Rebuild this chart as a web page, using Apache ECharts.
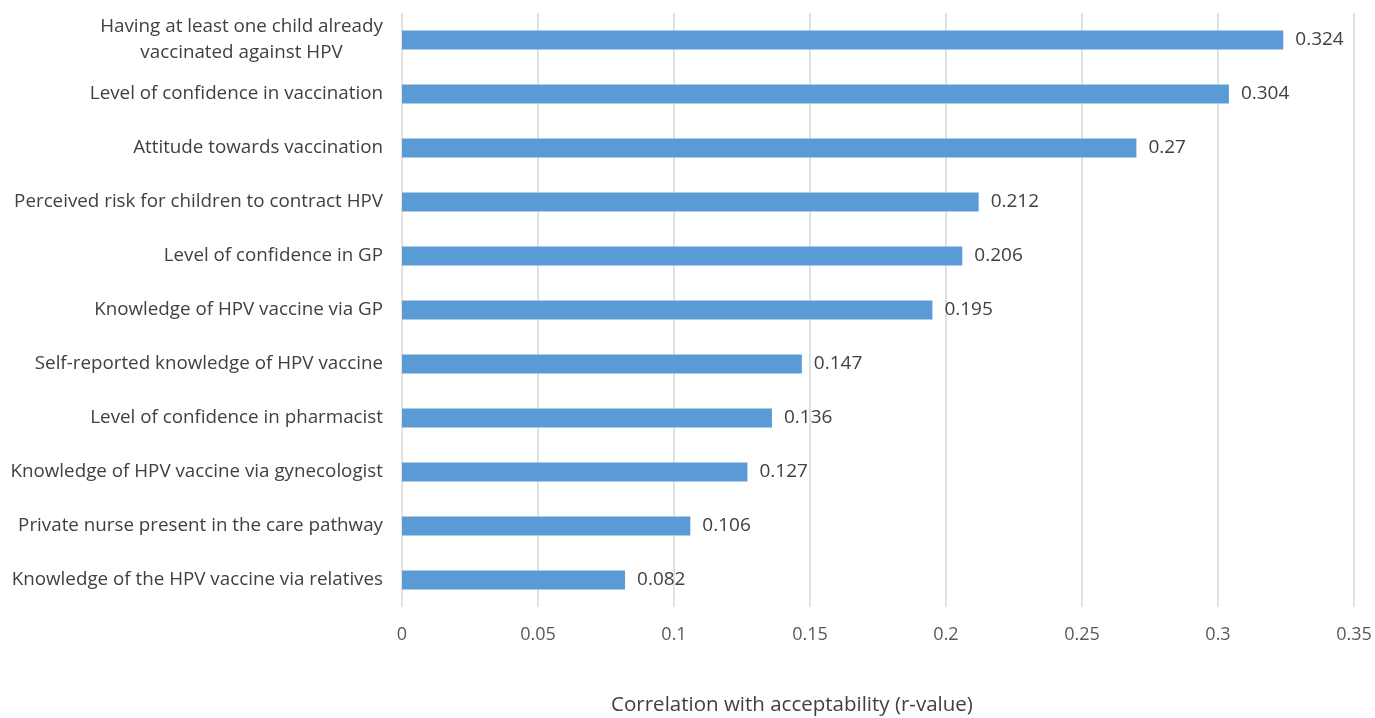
<!DOCTYPE html>
<html>
<head>
<meta charset="utf-8">
<script src="https://cdn.jsdelivr.net/npm/echarts@6/dist/echarts.min.js"></script>
<style>html,body{margin:0;padding:0;background:#fff}#c{width:1375px;height:718px}</style>
</head>
<body>
<div id="c"></div>
<script>
const categories = [
  "Having at least one child already\nvaccinated against HPV",
  "Level of confidence in vaccination",
  "Attitude towards vaccination",
  "Perceived risk for children to contract HPV",
  "Level of confidence in GP",
  "Knowledge of HPV vaccine via GP",
  "Self-reported knowledge of HPV vaccine",
  "Level of confidence in pharmacist",
  "Knowledge of HPV vaccine via gynecologist",
  "Private nurse present in the care pathway",
  "Knowledge of the HPV vaccine via relatives"
];
const values = [0.324, 0.304, 0.27, 0.212, 0.206, 0.195, 0.147, 0.136, 0.127, 0.106, 0.082];
const xTicks = [0, 0.05, 0.1, 0.15, 0.2, 0.25, 0.3, 0.35];
const axisTitle = "Correlation with acceptability (r-value)";

const FONT = "Open Sans";
const CAT_SIZE = 18.8;
const ctx = document.createElement('canvas').getContext('2d');
ctx.font = CAT_SIZE + 'px "' + FONT + '"';
function measure(s) { return Math.ceil(ctx.measureText(s).width); }
const multi = categories.filter(c => c.indexOf('\n') >= 0);
const multiWidth = multi.length ? Math.max.apply(null, multi[0].split('\n').map(measure)) : 0;

const chart = echarts.init(document.getElementById('c'));
chart.setOption({
  animation: false,
  grid: { left: 402, right: 21, top: 13, bottom: 111, containLabel: false, outerBoundsMode: 'none' },
  xAxis: {
    type: 'value', min: xTicks[0], max: xTicks[xTicks.length - 1], interval: 0.05,
    axisLine: { show: false }, axisTick: { show: false },
    splitLine: { show: true, lineStyle: { color: '#d9d9d9', width: 1.5 } },
    axisLabel: { color: '#595959', fontFamily: FONT, fontSize: 18, margin: 19 },
    name: axisTitle, nameLocation: 'middle', nameGap: 88,
    nameTextStyle: { color: '#404040', fontFamily: FONT, fontSize: 20.5, padding: [0, 172, 0, 0] }
  },
  yAxis: {
    type: 'category', data: categories, inverse: true,
    axisLine: { show: false }, axisTick: { show: false },
    axisLabel: {
      color: '#404040', fontFamily: FONT, fontSize: CAT_SIZE, margin: 19, lineHeight: 26, align: 'right',
      formatter: function (v) {
        if (v.indexOf('\n') < 0) return v;
        return v.split('\n').map(l => '{c|' + l + '}').join('\n');
      },
      rich: { c: { align: 'center', width: multiWidth, fontFamily: FONT, fontSize: CAT_SIZE, color: '#404040', lineHeight: 26 } }
    }
  },
  series: [{
    type: 'bar', data: values, barWidth: 19,
    itemStyle: { color: '#5b9bd5' },
    label: { show: true, position: 'right', distance: 12, color: '#404040', fontFamily: FONT, fontSize: 19 }
  }]
});
</script>
</body>
</html>
